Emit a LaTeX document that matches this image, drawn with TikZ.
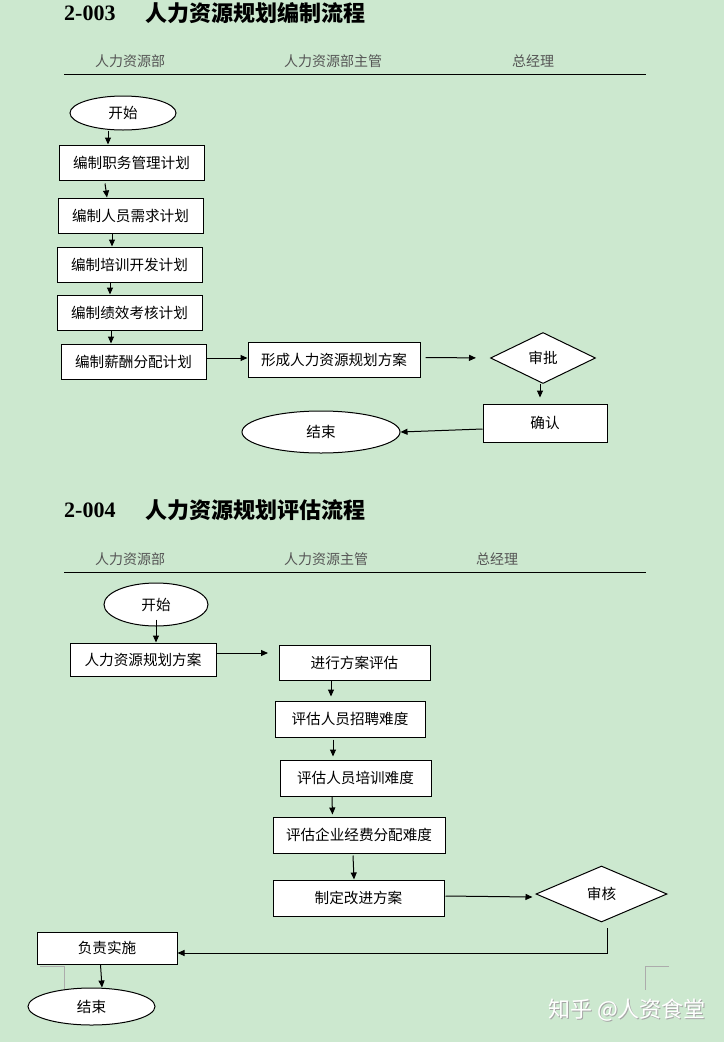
\documentclass[tikz,border=0pt]{standalone}
\usepackage{fontspec}
\newfontfamily\cjk{Noto Sans CJK SC}
\newfontfamily\serifdig{Liberation Serif}
\usetikzlibrary{shapes.geometric,arrows.meta}
\definecolor{bg}{RGB}{204,232,207}
\definecolor{hdr}{RGB}{85,85,85}
\tikzset{
  txt/.style={font=\cjk\fontsize{14.6}{16}\selectfont},
  box/.style={txt, draw=black, fill=white, line width=1pt, inner sep=0pt, rectangle},
  oval/.style={txt, ellipse, draw=black, fill=white, line width=1pt, inner sep=0pt},
  dia/.style={txt, diamond, draw=black, fill=white, line width=1pt, inner sep=0pt},
  arr/.style={-{Triangle[length=7pt,width=6pt]}, line width=1pt},
  hdrtxt/.style={font=\cjk\fontsize{14}{16}\selectfont, text=hdr, anchor=west, inner sep=0pt},
  ttl/.style={font=\cjk\bfseries\fontsize{22}{24}\selectfont, anchor=west, inner sep=0pt},
  ttlnum/.style={font=\serifdig\bfseries\fontsize{22}{24}\selectfont, anchor=west, inner sep=0pt},
  rule/.style={line width=1pt, black},
  cornermark/.style={draw=gray!65, line width=0.7pt}
}
\begin{document}
\begin{tikzpicture}[x=1pt,y=-1pt]
\path[fill=bg] (0,0) rectangle (724,1042);
\useasboundingbox (0,0) rectangle (724,1042);

% ---------- Section 1 ----------
\node[ttlnum] (t1n) at (64,13) {2-003};
\node[ttl] (t1) at (145,13) {人力资源规划编制流程};
\node[hdrtxt] (h1a) at (95,61) {人力资源部};
\node[hdrtxt] (h1b) at (284,61) {人力资源部主管};
\node[hdrtxt] (h1c) at (512,61) {总经理};
\coordinate (r1a) at (64,74);
\coordinate (r1b) at (646,74);
\draw[rule] (r1a) -- (r1b);

\node[oval, minimum width=106pt, minimum height=34pt] (s1) at (123,113) {开始};
\node[box, minimum width=145pt, minimum height=35pt] (b1) at (131.5,162.5) {编制职务管理计划};
\node[box, minimum width=145pt, minimum height=35pt] (b2) at (130.5,215.5) {编制人员需求计划};
\node[box, minimum width=145pt, minimum height=35pt] (b3) at (129.5,264.5) {编制培训开发计划};
\node[box, minimum width=145pt, minimum height=35pt] (b4) at (129.5,312.5) {编制绩效考核计划};
\node[box, minimum width=145pt, minimum height=35pt] (b5) at (133.5,361.5) {编制薪酬分配计划};
\node[box, minimum width=172pt, minimum height=35pt] (b6) at (334,359.5) {形成人力资源规划方案};
\node[dia, minimum width=105pt, minimum height=51pt] (d1) at (543,358) {审批};
\node[box, minimum width=124pt, minimum height=38pt] (c1) at (545,423) {确认};
\node[oval, minimum width=158pt, minimum height=42pt] (e1) at (321,432) {结束};

\draw[arr] ([xshift=-15pt]s1.south) -- ([xshift=-23.5pt]b1.north);
\draw[arr] ([xshift=-26.5pt,yshift=-3pt]b1.south) -- ([xshift=-23.5pt]b2.north);
\draw[arr] ([xshift=-18.5pt]b2.south) -- ([xshift=-17.5pt]b3.north);
\draw[arr] ([xshift=-19.5pt]b3.south) -- ([xshift=-19.5pt]b4.north);
\draw[arr] ([xshift=-18.5pt]b4.south) -- ([xshift=-22.5pt]b5.north);
\draw[arr] ([yshift=3.5pt]b5.east) -- ([yshift=1.5pt]b6.west);
\draw[arr, shorten >=14pt] ([xshift=5pt,yshift=2pt]b6.east) -- (d1.west);
\draw[arr, shorten >=6pt] ([xshift=-3pt]d1.south) -- ([xshift=-5pt]c1.north);
\draw[arr] ([yshift=-6pt]c1.west) -- (e1.east);

% ---------- Section 2 ----------
\node[ttlnum] (t2n) at (64,510) {2-004};
\node[ttl] (t2) at (145,510) {人力资源规划评估流程};
\node[hdrtxt] (h2a) at (95,559) {人力资源部};
\node[hdrtxt] (h2b) at (284,559) {人力资源主管};
\node[hdrtxt] (h2c) at (476,559) {总经理};
\coordinate (r2a) at (64,572);
\coordinate (r2b) at (646,572);
\draw[rule] (r2a) -- (r2b);

\node[oval, minimum width=104pt, minimum height=43pt] (s2) at (156,604.5) {开始};
\node[box, minimum width=146pt, minimum height=33pt] (p1) at (143,659.5) {人力资源规划方案};
\node[box, minimum width=151pt, minimum height=35pt] (p2) at (354.5,662.5) {进行方案评估};
\node[box, minimum width=150pt, minimum height=36pt] (p3) at (350,719) {评估人员招聘难度};
\node[box, minimum width=151pt, minimum height=36pt] (p4) at (355.5,778) {评估人员培训难度};
\node[box, minimum width=172pt, minimum height=36pt] (p5) at (359,835) {评估企业经费分配难度};
\node[box, minimum width=171pt, minimum height=36pt] (p6) at (358.5,898) {制定改进方案};
\node[dia, minimum width=131pt, minimum height=56pt] (d2) at (601.5,894) {审核};
\node[box, minimum width=140pt, minimum height=32pt] (im) at (107,948) {负责实施};
\node[oval, minimum width=127pt, minimum height=37pt] (e2) at (91.5,1006.5) {结束};

\coordinate (p1e) at (268,653);
\coordinate (d2b) at (607,928);

\draw[arr] ([yshift=-15pt]s2.center) -- (p1.north -| s2.center);
\draw[arr] ([yshift=6.5pt]p1.east) -- (p1e);
\draw[arr, shorten >=4pt] ([xshift=-23.5pt]p2.south) -- ([xshift=-19pt]p3.north);
\draw[arr, shorten >=3pt] ([xshift=-17pt,yshift=-2pt]p3.south) -- ([xshift=-22.5pt]p4.north);
\draw[arr, shorten >=2pt] ([xshift=-23.5pt]p4.south) -- ([xshift=-26.5pt]p5.north);
\draw[arr] ([xshift=-6pt,yshift=-2pt]p5.south) -- ([xshift=-4.5pt]p6.north);
\draw[arr] ([xshift=1pt,yshift=2pt]p6.east) -- ([xshift=-3pt,yshift=-3pt]d2.west);
\draw[arr] (d2b) |- ([yshift=-5pt]im.east);
\draw[arr] ([xshift=-6.5pt]im.south) -- ([xshift=10.5pt]e2.north);

% corner marks
\coordinate (m1a) at (40,966);
\coordinate (m1b) at (64.5,966);
\coordinate (m1c) at (64.5,989);
\draw[cornermark] (m1a) -- (m1b) -- (m1c);
\coordinate (m2a) at (669,966);
\coordinate (m2b) at (645.5,966);
\coordinate (m2c) at (645.5,990);
\draw[cornermark] (m2a) -- (m2b) -- (m2c);

% watermark
\node[font=\cjk\fontsize{22}{24}\selectfont, text=gray!70, anchor=west, inner sep=0pt] (wms) at (549,1011) {知乎 @人资食堂};
\node[font=\cjk\fontsize{22}{24}\selectfont, text=white, anchor=west, inner sep=0pt] (wm) at (548,1010) {知乎 @人资食堂};
\end{tikzpicture}
\end{document}
